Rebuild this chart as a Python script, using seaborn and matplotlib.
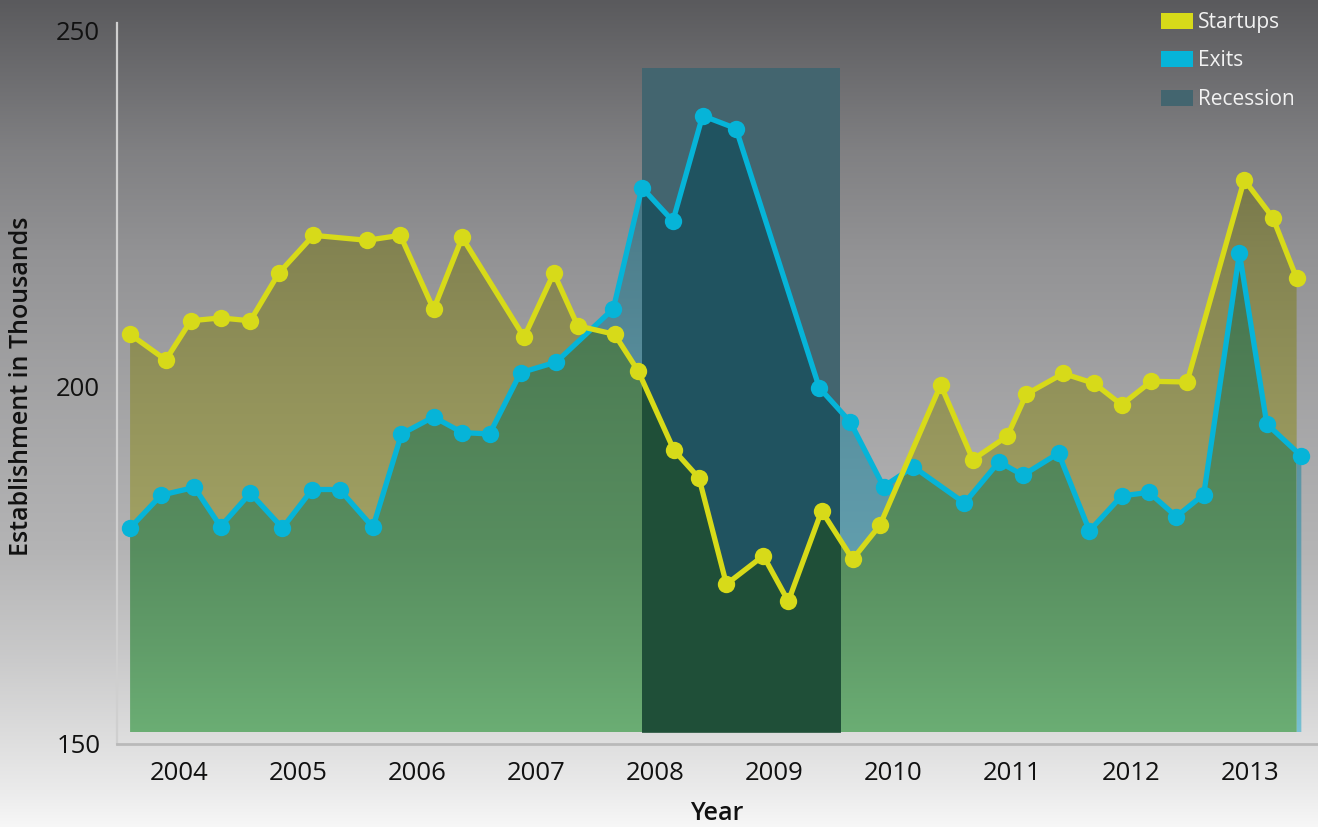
import numpy as np
import pandas as pd
import matplotlib
matplotlib.use("Agg")
import matplotlib.pyplot as plt
import seaborn as sns
from matplotlib.patches import Patch, Rectangle
from matplotlib.path import Path

# quarterly points, x in fractional years (labels sit at mid-year)
startup_x = [2004.09, 2004.39, 2004.60, 2004.85, 2005.10, 2005.34, 2005.63, 2006.08,
             2006.36, 2006.64, 2006.88, 2007.40, 2007.65, 2007.85, 2008.16, 2008.36,
             2008.66, 2008.87, 2009.10, 2009.41, 2009.62, 2009.90, 2010.16, 2010.39,
             2010.90, 2011.17, 2011.46, 2011.62, 2011.93, 2012.19, 2012.42, 2012.67,
             2012.97, 2013.45, 2013.69, 2013.89]
startups = [207.4, 203.8, 209.3, 209.7, 209.3, 216.0, 221.3, 220.6,
            221.3, 210.9, 221.0, 207.0, 216.0, 208.6, 207.4, 202.2,
            191.1, 187.2, 172.3, 176.3, 169.9, 182.6, 175.8, 180.6,
            200.3, 189.8, 193.1, 199.0, 201.9, 200.5, 197.5, 200.8,
            200.7, 229.1, 223.8, 215.3]

exit_x = [2004.09, 2004.35, 2004.63, 2004.85, 2005.10, 2005.37, 2005.62, 2005.85,
          2006.13, 2006.37, 2006.64, 2006.88, 2007.11, 2007.37, 2007.67, 2008.15,
          2008.39, 2008.65, 2008.90, 2009.18, 2009.88, 2010.14, 2010.42, 2010.67,
          2011.10, 2011.39, 2011.59, 2011.89, 2012.15, 2012.42, 2012.65, 2012.88,
          2013.11, 2013.41, 2013.64, 2013.93]
exits = [180.2, 184.8, 185.9, 180.4, 185.1, 180.2, 185.6, 185.6,
         180.3, 193.4, 195.8, 193.6, 193.4, 202.0, 203.5, 211.0,
         228.0, 223.3, 238.1, 236.3, 199.9, 195.1, 186.0, 188.8,
         183.7, 189.5, 187.6, 190.7, 179.8, 184.7, 185.2, 181.8,
         184.9, 218.8, 194.8, 190.3]

recession_start, recession_end, recession_top = 2008.39, 2010.05, 244.8
years = list(range(2004, 2014))
yticks = [150, 200, 250]

W, H = 1318, 827
base = 151.5
xlim = (2003.98, 2014.07)
ylim = (149.86, 251.12)
ax_pos = [117 / W, (H - 744) / H, 1 - 117 / W, (744 - 23) / H]

yellow = "#d7da19"
blue = "#06b4d8"
rec_col = "#43656f"

# background grey ramp (pixel row -> grey level)
bg_px = [0, 60, 150, 250, 400, 550, 650, 740, 790, 827]
bg_lv = [90, 105, 128, 146, 164, 180, 200, 222, 235, 247]


def bg_rgb(px):
    g = np.interp(px, bg_px, bg_lv)
    return np.stack([g, g, g + 3 * (1 - px / H)], axis=-1)


def data_to_px(y):
    frac = ax_pos[1] + (np.asarray(y) - ylim[0]) / (ylim[1] - ylim[0]) * ax_pos[3]
    return (1 - frac) * H


sns.set_style("white")
plt.rcParams["font.family"] = ["Open Sans", "DejaVu Sans"]

fig = plt.figure(figsize=(W / 100, H / 100), dpi=100)
bga = fig.add_axes([0, 0, 1, 1], zorder=-5)
rows = np.arange(H)
bga.imshow(np.clip(bg_rgb(rows)[:, None, :] / 255, 0, 1), aspect="auto",
           extent=[0, 1, 0, 1], origin="upper")
bga.axis("off")

ax = fig.add_axes(ax_pos)
ax.set_facecolor("none")

# common grid for the shaded regions
grid = np.union1d(np.union1d(startup_x, exit_x),
                  np.arange(startup_x[0], exit_x[-1], 0.002))
s_i = np.interp(grid, startup_x, startups, left=base, right=base)
e_i = np.interp(grid, exit_x, exits, left=base, right=base)
both = np.minimum(s_i, e_i)

f_yel = np.array([0.90, 0.90, 0.55])
f_blu = np.array([0.54, 0.875, 0.955])
regions = [
    (dict(y1=base, y2=both), f_yel * f_blu, "#1f4f38"),
    (dict(y1=e_i, y2=s_i, where=s_i > e_i, interpolate=True), f_yel, "#3c5b3d"),
    (dict(y1=s_i, y2=e_i, where=e_i > s_i, interpolate=True), f_blu, "#205360"),
]

band = Rectangle((recession_start, base), recession_end - recession_start,
                 recession_top - base, facecolor=rec_col, edgecolor="none", zorder=2)
ax.add_patch(band)

ys = np.linspace(base, 240, 400)
for kw, fac, band_col in regions:
    coll = ax.fill_between(grid, **kw)
    path = Path.make_compound_path(*coll.get_paths())
    coll.remove()
    rgb = np.clip(bg_rgb(data_to_px(ys)) * fac / 255, 0, 1)
    im = ax.imshow(rgb[:, None, :], extent=[grid[0], grid[-1], ys[0], ys[-1]],
                   origin="lower", aspect="auto", zorder=1, interpolation="bilinear")
    im.set_clip_path(path, ax.transData)
    inner = ax.fill_between(grid, **kw, color=band_col, lw=0, zorder=3)
    inner.set_clip_path(band)

df_e = pd.DataFrame({"x": exit_x, "v": exits})
df_s = pd.DataFrame({"x": startup_x, "v": startups})
sns.lineplot(data=df_e, x="x", y="v", ax=ax, color=blue, lw=3.8, marker="o",
             markersize=12.5, markeredgewidth=0, zorder=5)
sns.lineplot(data=df_s, x="x", y="v", ax=ax, color=yellow, lw=3.8, marker="o",
             markersize=12.5, markeredgewidth=0, zorder=6)

ax.set_xlim(*xlim)
ax.set_ylim(*ylim)
ax.set_xticks([y + 0.5 for y in years])
ax.set_xticklabels([str(y) for y in years])
ax.set_yticks(yticks)
ax.set_yticklabels([str(t) for t in yticks])
ax.tick_params(axis="both", length=0, labelsize=18.5, labelcolor="#111111")
ax.tick_params(axis="x", pad=12)
ax.tick_params(axis="y", pad=12)
ax.set_xlabel("")
ax.set_ylabel("")
for side in ["top", "right"]:
    ax.spines[side].set_visible(False)
ax.spines["left"].set_color("#cfcfcf")
ax.spines["left"].set_linewidth(1.6)
ax.spines["bottom"].set_color("#b9b9b9")
ax.spines["bottom"].set_linewidth(2)

fig.text(22 / W, 1 - 386 / H, "Establishment in Thousands", rotation=90,
         ha="center", va="center", fontsize=18, fontweight="semibold", color="#111111")
fig.text(717 / W, 1 - 814 / H, "Year", ha="center", va="center",
         fontsize=18, fontweight="semibold", color="#111111")

handles = [Patch(facecolor=yellow, edgecolor="none", label="Startups"),
           Patch(facecolor=blue, edgecolor="none", label="Exits"),
           Patch(facecolor=rec_col, edgecolor="none", label="Recession")]
fig.legend(handles=handles, loc="upper left", bbox_to_anchor=(1161 / W, 1 - 12 / H),
           frameon=False, fontsize=15, labelcolor="#f2f2f2", handlelength=1.54,
           handleheight=0.82, handletextpad=0.25, labelspacing=0.84,
           borderpad=0, borderaxespad=0)

fig.savefig("out.png", dpi=100)
